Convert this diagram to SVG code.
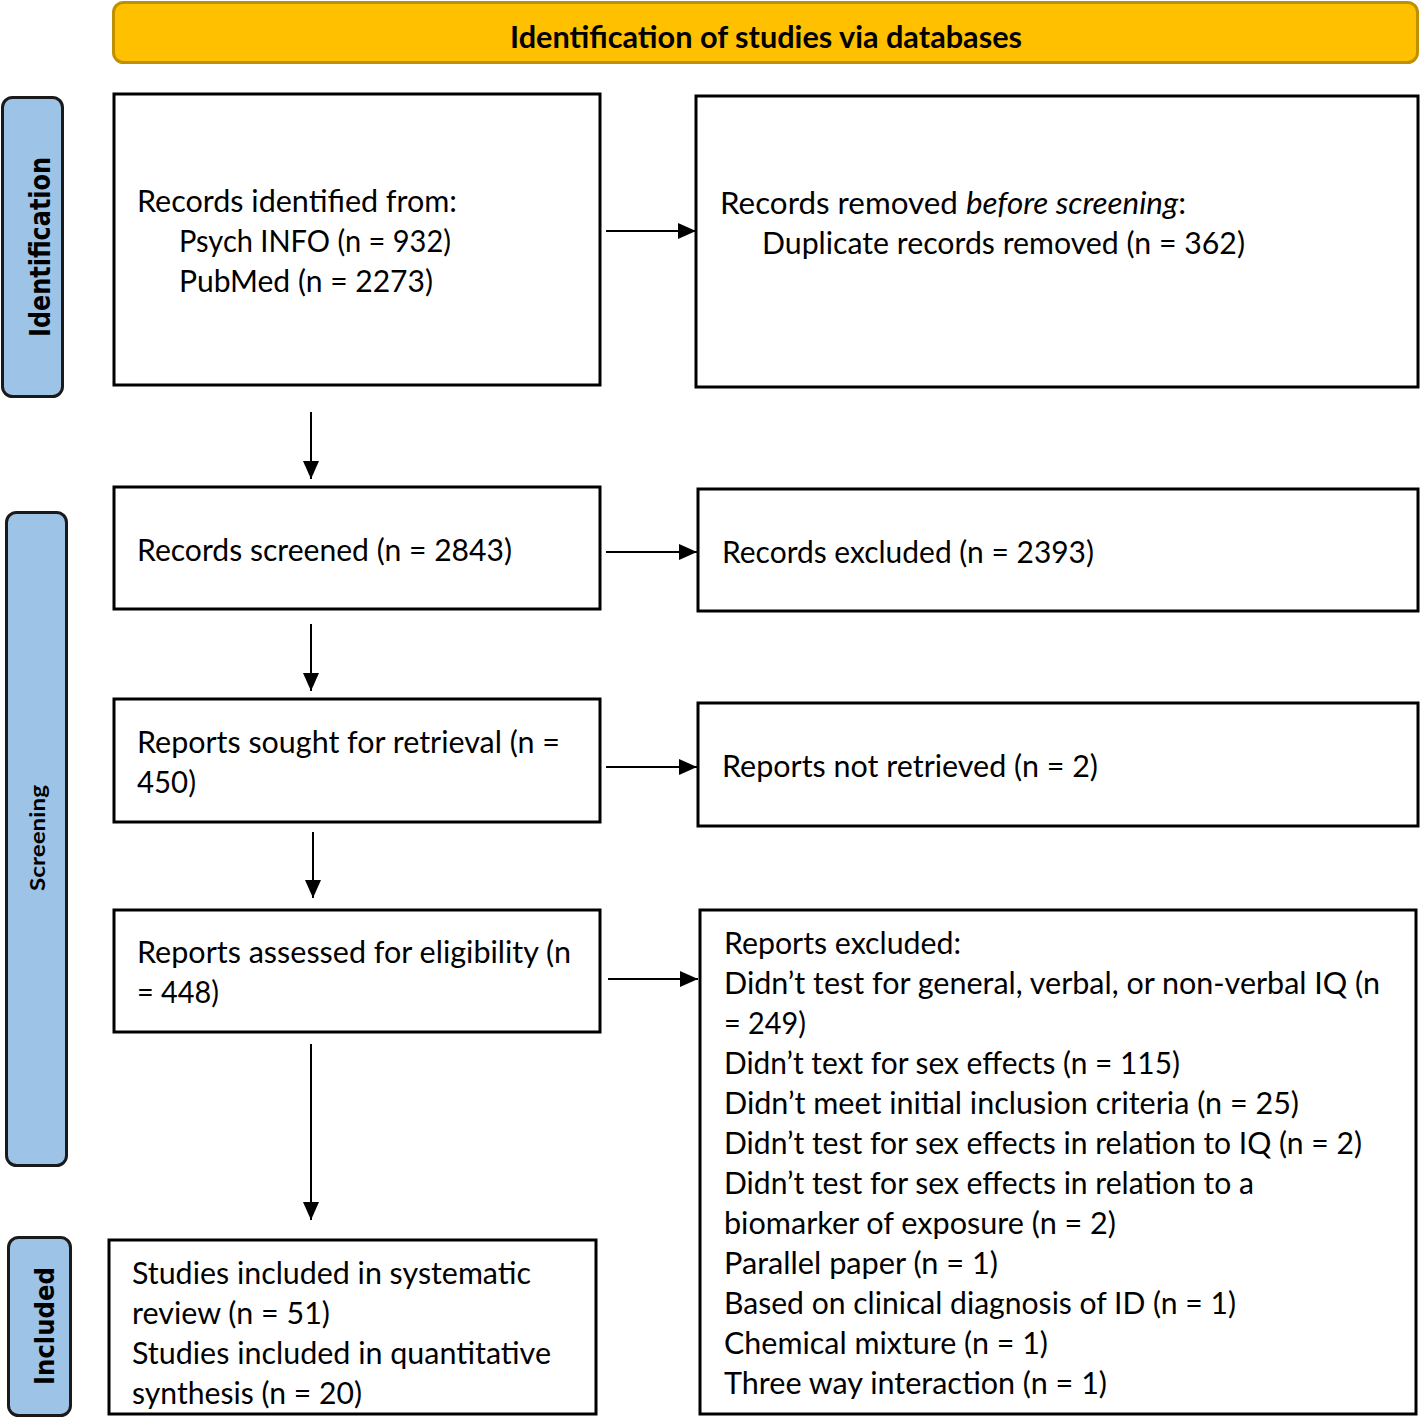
<svg xmlns="http://www.w3.org/2000/svg" width="1420" height="1418" viewBox="0 0 1420 1418">
<style>
.box{fill:#fff;stroke:#000;stroke-width:3}
.lab{fill:#9DC3E6;stroke:#1a1a1a;stroke-width:3}
.t{font-family:Lato,"Liberation Sans",sans-serif;font-size:30px;fill:#000}
.hb{font-family:Lato,"Liberation Sans",sans-serif;font-size:30px;font-weight:bold;fill:#000}
.vb{font-family:"DejaVu Sans",Verdana,sans-serif;font-weight:bold;fill:#000}
.sb{font-family:Lato,"Liberation Sans",sans-serif;font-weight:bold;fill:#000}
.c{stroke:#000;stroke-width:2;fill:none}
</style>
<defs>
<marker id="ah" markerWidth="18" markerHeight="18" refX="18" refY="9" orient="auto" markerUnits="userSpaceOnUse" viewBox="0 0 18 18">
<path d="M0,1 L18,9 L0,17 Z" fill="#000"/>
</marker>
</defs>
<g id="header">
<rect x="113.5" y="2.5" width="1304" height="60" rx="10" fill="#FFC000" stroke="#BF9000" stroke-width="3"/>
<text class="hb" x="766" y="48" text-anchor="middle" textLength="512" lengthAdjust="spacingAndGlyphs">Identification of studies via databases</text>
</g>
<g id="label-identification">
<rect class="lab" x="2.5" y="97.5" width="60" height="299" rx="10"/>
<text class="vb" font-size="28" transform="translate(50,247) rotate(-90)" text-anchor="middle" textLength="180" lengthAdjust="spacingAndGlyphs">Identification</text>
</g>
<g id="label-screening">
<rect class="lab" x="6.5" y="512.5" width="60" height="653" rx="10"/>
<text class="sb" font-size="20" transform="translate(45,838) rotate(-90)" text-anchor="middle" textLength="106" lengthAdjust="spacingAndGlyphs">Screening</text>
</g>
<g id="label-included">
<rect class="lab" x="8.5" y="1237.5" width="62" height="178" rx="10"/>
<text class="vb" font-size="26" transform="translate(54,1326) rotate(-90)" text-anchor="middle" textLength="118" lengthAdjust="spacingAndGlyphs">Included</text>
</g>
<g id="records-identified">
<rect class="box" x="114" y="94" width="486" height="291"/>
<text class="t" x="137" y="212" textLength="320" lengthAdjust="spacingAndGlyphs">Records identified from:</text>
<text class="t" x="179" y="252" textLength="272" lengthAdjust="spacingAndGlyphs">Psych INFO (n = 932)</text>
<text class="t" x="179" y="292" textLength="254" lengthAdjust="spacingAndGlyphs">PubMed (n = 2273)</text>
</g>
<g id="records-removed">
<rect class="box" x="696" y="96" width="722" height="291"/>
<text class="t" x="720" y="214" textLength="466" lengthAdjust="spacingAndGlyphs">Records removed <tspan font-style="italic">before screening</tspan>:</text>
<text class="t" x="762" y="254" textLength="483" lengthAdjust="spacingAndGlyphs">Duplicate records removed (n = 362)</text>
</g>
<g id="records-screened">
<rect class="box" x="114" y="487" width="486" height="122"/>
<text class="t" x="137" y="561" textLength="375" lengthAdjust="spacingAndGlyphs">Records screened (n = 2843)</text>
</g>
<g id="records-excluded">
<rect class="box" x="698" y="489" width="720" height="122"/>
<text class="t" x="722" y="563" textLength="372" lengthAdjust="spacingAndGlyphs">Records excluded (n = 2393)</text>
</g>
<g id="reports-sought">
<rect class="box" x="114" y="699" width="486" height="123"/>
<text class="t" x="137" y="753" textLength="423" lengthAdjust="spacingAndGlyphs">Reports sought for retrieval (n =</text>
<text class="t" x="137" y="793" textLength="59" lengthAdjust="spacingAndGlyphs">450)</text>
</g>
<g id="reports-not-retrieved">
<rect class="box" x="698" y="703" width="720" height="123"/>
<text class="t" x="722" y="777" textLength="376" lengthAdjust="spacingAndGlyphs">Reports not retrieved (n = 2)</text>
</g>
<g id="reports-assessed">
<rect class="box" x="114" y="910" width="486" height="122"/>
<text class="t" x="137" y="963" textLength="434" lengthAdjust="spacingAndGlyphs">Reports assessed for eligibility (n</text>
<text class="t" x="137" y="1003" textLength="82" lengthAdjust="spacingAndGlyphs">= 448)</text>
</g>
<g id="reports-excluded">
<rect class="box" x="700" y="910" width="716" height="504"/>
<text class="t" x="724" y="954" textLength="237" lengthAdjust="spacingAndGlyphs">Reports excluded:</text>
<text class="t" x="724" y="994" textLength="656" lengthAdjust="spacingAndGlyphs">Didn’t test for general, verbal, or non-verbal IQ (n</text>
<text class="t" x="724" y="1034" textLength="82" lengthAdjust="spacingAndGlyphs">= 249)</text>
<text class="t" x="724" y="1074" textLength="456" lengthAdjust="spacingAndGlyphs">Didn’t text for sex effects (n = 115)</text>
<text class="t" x="724" y="1114" textLength="575" lengthAdjust="spacingAndGlyphs">Didn’t meet initial inclusion criteria (n = 25)</text>
<text class="t" x="724" y="1154" textLength="638" lengthAdjust="spacingAndGlyphs">Didn’t test for sex effects in relation to IQ (n = 2)</text>
<text class="t" x="724" y="1194" textLength="530" lengthAdjust="spacingAndGlyphs">Didn’t test for sex effects in relation to a</text>
<text class="t" x="724" y="1234" textLength="392" lengthAdjust="spacingAndGlyphs">biomarker of exposure (n = 2)</text>
<text class="t" x="724" y="1274" textLength="274" lengthAdjust="spacingAndGlyphs">Parallel paper (n = 1)</text>
<text class="t" x="724" y="1314" textLength="512" lengthAdjust="spacingAndGlyphs">Based on clinical diagnosis of ID (n = 1)</text>
<text class="t" x="724" y="1354" textLength="324" lengthAdjust="spacingAndGlyphs">Chemical mixture (n = 1)</text>
<text class="t" x="724" y="1394" textLength="383" lengthAdjust="spacingAndGlyphs">Three way interaction (n = 1)</text>
</g>
<g id="studies-included">
<rect class="box" x="109" y="1240" width="487" height="174"/>
<text class="t" x="132" y="1284" textLength="399" lengthAdjust="spacingAndGlyphs">Studies included in systematic</text>
<text class="t" x="132" y="1324" textLength="198" lengthAdjust="spacingAndGlyphs">review (n = 51)</text>
<text class="t" x="132" y="1364" textLength="419" lengthAdjust="spacingAndGlyphs">Studies included in quantitative</text>
<text class="t" x="132" y="1404" textLength="230" lengthAdjust="spacingAndGlyphs">synthesis (n = 20)</text>
</g>
<g id="connectors">
<line class="c" x1="606" y1="231" x2="696" y2="231" marker-end="url(#ah)"/>
<line class="c" x1="606" y1="552" x2="697" y2="552" marker-end="url(#ah)"/>
<line class="c" x1="606" y1="767" x2="697" y2="767" marker-end="url(#ah)"/>
<line class="c" x1="608" y1="979" x2="698" y2="979" marker-end="url(#ah)"/>
<line class="c" x1="311" y1="412" x2="311" y2="479" marker-end="url(#ah)"/>
<line class="c" x1="311" y1="624" x2="311" y2="691" marker-end="url(#ah)"/>
<line class="c" x1="313" y1="832" x2="313" y2="898" marker-end="url(#ah)"/>
<line class="c" x1="311" y1="1044" x2="311" y2="1220" marker-end="url(#ah)"/>
</g>
</svg>
